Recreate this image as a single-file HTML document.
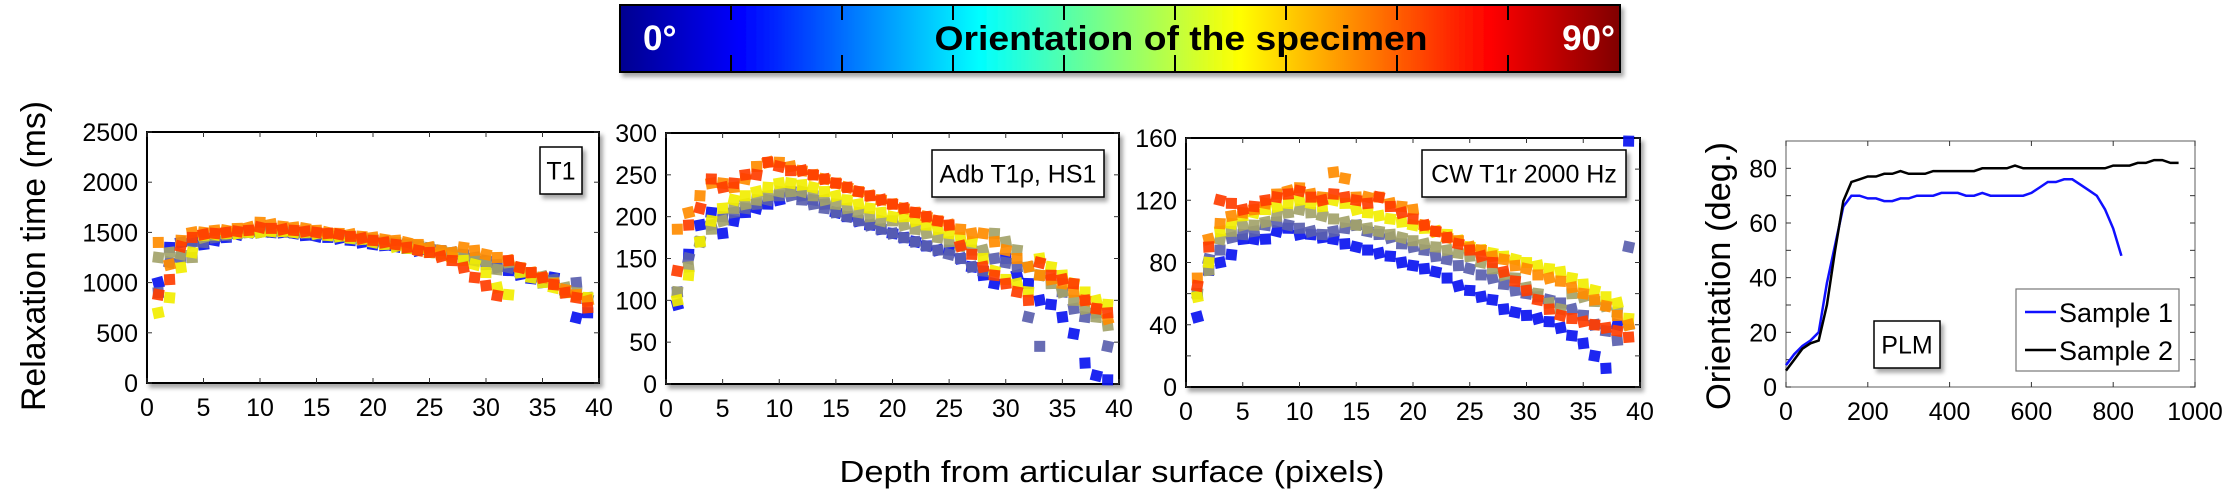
<!DOCTYPE html>
<html><head><meta charset="utf-8"><style>
body{margin:0;background:#fff;width:2233px;height:499px;overflow:hidden;font-family:"Liberation Sans",sans-serif}
</style></head><body>
<svg id="svg" width="2233" height="499" xmlns="http://www.w3.org/2000/svg">
<defs>
<linearGradient id="jet" x1="0" x2="1" y1="0" y2="0">
<stop offset="0" stop-color="#00008f"/><stop offset="0.12" stop-color="#0000ff"/><stop offset="0.36" stop-color="#00ffff"/>
<stop offset="0.62" stop-color="#ffff00"/><stop offset="0.87" stop-color="#ff0000"/><stop offset="1" stop-color="#800000"/>
</linearGradient>
<filter id="sh" x="-10%" y="-10%" width="130%" height="140%"><feDropShadow dx="3" dy="4" stdDeviation="2" flood-color="#000" flood-opacity="0.35"/></filter>
</defs>
<g>
<rect x="620" y="5" width="1000" height="67" fill="url(#jet)" stroke="#000" stroke-width="2" filter="url(#sh)"/>
<g id="cbticks"></g>
<text x="643" y="50" font-size="35" font-weight="bold" fill="#fff">0°</text>
<text x="1181" y="50" font-size="34" font-weight="bold" fill="#000" text-anchor="middle" textLength="493" lengthAdjust="spacingAndGlyphs">Orientation of the specimen</text>
<text x="1615" y="50" font-size="35" font-weight="bold" fill="#fff" text-anchor="end">90°</text>
</g>
<text transform="translate(45,256) rotate(-90)" font-size="34" text-anchor="middle" textLength="310" lengthAdjust="spacingAndGlyphs">Relaxation time (ms)</text>
<text x="1112" y="482" font-size="31" text-anchor="middle" textLength="545" lengthAdjust="spacingAndGlyphs">Depth from articular surface (pixels)</text>
<text transform="translate(1730,276) rotate(-90)" font-size="34" text-anchor="middle" textLength="268" lengthAdjust="spacingAndGlyphs">Orientation (deg.)</text>
</svg>
<script>
const depths=[1,2,3,4,5,6,7,8,9,10,11,12,13,14,15,16,17,18,19,20,21,22,23,24,25,26,27,28,29,30,31,32,33,34,35,36,37,38,39];
const seriesColors=["#0a14f0","#5a5fae","#a3a36a","#f2ee00","#ff8c00","#ff3d00"];
const t1Blue=[1000,1350,1400,1420,1380,1420,1450,1480,1500,1500,1500,1500,1490,1470,1460,1450,1440,1420,1400,1380,1370,1360,1340,1320,1300,1290,1270,1250,1220,1180,1150,1120,1080,1040,1000,1050,900,650,700];
const t1Slate=[900,1200,1250,1400,1400,1450,1470,1490,1500,1510,1510,1510,1500,1490,1480,1470,1460,1450,1440,1420,1400,1390,1380,1360,1340,1320,1300,1280,1250,1220,1180,1150,1110,1080,1050,1030,920,1000,830];
const t1Olive=[1250,1300,1280,1250,1450,1470,1480,1490,1500,1520,1520,1510,1500,1500,1490,1480,1470,1460,1440,1430,1410,1400,1380,1370,1350,1320,1300,1270,1240,1200,1130,1200,1150,1100,1060,1000,950,900,850];
const t1Yellow=[700,850,1150,1300,1470,1480,1490,1490,1500,1500,1510,1510,1500,1500,1490,1470,1460,1440,1430,1400,1380,1360,1340,1330,1300,1280,1250,1220,1180,1100,950,880,1100,1050,1000,950,900,870,850];
const t1Orange=[1400,1180,1420,1500,1500,1520,1520,1540,1550,1600,1580,1560,1550,1540,1520,1500,1490,1480,1460,1450,1430,1420,1400,1380,1350,1320,1300,1350,1320,1280,1250,1220,1150,1100,1050,990,930,880,820];
const t1Red=[880,1030,1360,1450,1480,1490,1500,1510,1520,1550,1540,1530,1520,1510,1500,1490,1480,1460,1440,1420,1400,1380,1350,1320,1300,1260,1220,1150,1050,970,870,1220,1150,1100,1050,980,900,850,750];
const adbBlue=[95,155,190,205,180,195,205,210,215,220,230,225,220,215,205,200,195,190,185,180,175,170,165,160,160,150,140,130,120,150,130,120,100,95,80,60,25,10,5];
const adbSlate=[110,150,170,190,200,205,210,215,220,225,225,220,215,210,205,200,195,190,185,180,175,170,165,160,155,150,140,135,150,145,140,80,45,125,110,90,80,85,45];
const adbOlive=[110,140,170,185,195,210,215,220,225,230,230,230,225,220,215,210,205,200,195,195,190,185,180,175,170,165,160,160,180,170,160,140,130,120,110,100,90,80,70];
const adbYellow=[100,130,170,195,210,220,225,230,235,240,240,238,235,230,225,220,215,210,205,200,200,195,190,185,180,175,170,150,135,125,120,110,150,140,130,120,110,100,95];
const adbOrange=[185,205,225,240,240,235,245,260,265,265,260,255,250,245,240,235,230,225,220,215,210,205,200,195,190,185,180,180,170,160,150,140,130,125,120,110,100,90,78];
const adbRed=[135,190,210,245,235,240,250,250,265,260,255,255,250,245,240,235,230,225,220,215,210,205,200,195,190,165,155,140,130,120,110,100,145,130,125,120,100,90,85];
const cwBlue=[45,75,80,85,95,95,95,100,102,98,98,96,95,92,90,88,86,84,80,78,76,74,70,65,62,58,56,50,48,46,44,42,38,33,28,20,12,40,158];
const cwSlate=[60,82,88,96,98,100,104,106,104,102,100,98,100,102,104,100,98,96,92,90,88,84,82,78,76,72,70,66,62,60,58,56,54,50,46,40,36,30,90];
const cwOlive=[60,75,95,100,104,104,106,110,112,114,112,110,108,106,104,102,100,98,96,94,92,90,88,86,84,80,76,72,70,64,60,54,50,60,58,55,52,48,40];
const cwYellow=[58,80,100,105,110,112,114,116,118,120,118,116,120,118,114,112,110,108,106,104,102,100,98,94,90,88,86,84,82,80,78,76,74,70,66,62,58,54,44];
const cwOrange=[70,95,105,110,112,114,118,124,126,128,124,122,138,134,122,122,122,118,116,114,104,100,96,94,90,88,84,82,78,76,72,70,68,64,60,56,52,46,40];
const cwRed=[65,90,120,118,114,116,120,122,124,126,122,120,124,122,120,118,122,116,112,108,104,100,96,92,88,84,80,74,68,62,56,50,46,44,42,40,38,36,32];
const sample1=[8,12,15,17,20,38,52,66,70,70,69,69,68,68,69,69,70,70,70,71,71,71,70,70,71,70,70,70,70,70,71,73,75,75,76,76,74,72,70,65,58,48];
const sample2=[6,10,14,16,17,30,50,68,75,76,77,77,78,78,79,78,78,78,79,79,79,79,79,79,80,80,80,80,81,80,80,80,80,80,80,80,80,80,80,80,81,81,81,82,82,83,83,82,82];
const xTicksDepth=[0,5,10,15,20,25,30,35,40];
const yTicksT1=[0,500,1000,1500,2000,2500];
const yTicksAdb=[0,50,100,150,200,250,300];
const yTicksCw=[0,40,80,120,160];
const yTicksCwMinor=[20,60,100,140];
const xTicksPlm=[0,200,400,600,800,1000];
const yTicksPlm=[0,20,40,60,80];

const NS="http://www.w3.org/2000/svg";
const svg=document.getElementById('svg');
function mk(tag,attrs,parent){const e=document.createElementNS(NS,tag);for(const k in attrs)e.setAttribute(k,attrs[k]);(parent||svg).appendChild(e);return e;}
const cbt=document.getElementById('cbticks');
for(let k=1;k<9;k++){
 const x=620+k*111;
 const t1=mk('line',{x1:x,x2:x,y1:5,y2:20,stroke:'#000','stroke-width':2},cbt);
 
 
 const t2=mk('line',{x1:x,x2:x,y1:55,y2:72,stroke:'#000','stroke-width':2},cbt);
 
 
}
function panel(name,L,R,T,B,xmin,xmax,ymin,ymax,xt,yt,yMinor,frameColor){
 const g=mk('g',{});
 
 
 const sx=v=>L+(v-xmin)/(xmax-xmin)*(R-L);
 const sy=v=>B-(v-ymin)/(ymax-ymin)*(B-T);
 const fr=mk('rect',{x:L,y:T,width:R-L,height:B-T,fill:'#fff',stroke:frameColor||'#000','stroke-width':frameColor?1.2:2,filter:frameColor?'none':'url(#sh)'},g);
 
 
 xt.forEach(v=>{const x=sx(v);
  mk('line',{x1:x,x2:x,y1:B,y2:B-5,stroke:'#333'},g);mk('line',{x1:x,x2:x,y1:T,y2:T+5,stroke:'#333'},g);
  const t=mk('text',{x:x,y:B+33,'font-size':25,'text-anchor':'middle'},g);t.textContent=v;
  
  });
 yt.concat(yMinor||[]).forEach(v=>{const y=sy(v);
  mk('line',{x1:L,x2:L+5,y1:y,y2:y,stroke:'#333'},g);mk('line',{x1:R,x2:R-5,y1:y,y2:y,stroke:'#333'},g);});
 yt.forEach(v=>{const y=sy(v);
  const t=mk('text',{x:L-9,y:y+9,'font-size':25,'text-anchor':'end'},g);t.textContent=v;
  
  });
 return {g,sx,sy};
}
function scatter(p,series,pname){
 series.forEach((vals,si)=>{
  vals.forEach((v,i)=>{
   const x=p.sx(depths[i]),y=p.sy(v);
   const r=mk('rect',{x:x-5.5,y:y-5.5,width:11,height:11,fill:seriesColors[si],opacity:0.92,transform:`rotate(${(i*17+si*11)%30-15} ${x} ${y})`},p.g);
   
   
  });
 });
}
function labelBox(x,y,w,h,txt,name){
 const g=mk('g',{});
 
 
 mk('rect',{x:x,y:y,width:w,height:h,fill:'#fff',stroke:'#000','stroke-width':1.5,filter:'url(#sh)'},g);
 const t=mk('text',{x:x+w/2,y:y+h/2+9,'font-size':25,'text-anchor':'middle'},g);t.textContent=txt;
}
const p1=panel('t1-panel',147,599,132,383,0,40,0,2500,xTicksDepth,yTicksT1);
scatter(p1,[t1Blue,t1Slate,t1Olive,t1Yellow,t1Orange,t1Red],'t1');
labelBox(540,147,42,47,'T1','t1-label-box');
const p2=panel('adb-panel',666,1119,133,384,0,40,0,300,xTicksDepth,yTicksAdb);
scatter(p2,[adbBlue,adbSlate,adbOlive,adbYellow,adbOrange,adbRed],'adb');
labelBox(932,150,172,47,'Adb T1ρ, HS1','adb-label-box');
const p3=panel('cw-panel',1186,1640,138,387,0,40,0,160,xTicksDepth,yTicksCw,yTicksCwMinor);
scatter(p3,[cwBlue,cwSlate,cwOlive,cwYellow,cwOrange,cwRed],'cw');
labelBox(1422,150,204,47,'CW T1r 2000 Hz','cw-label-box');
const p4=panel('plm-panel',1786,2195,141,387,0,1000,0,90,xTicksPlm,yTicksPlm,[10,30,50,70],'#777');
function line(vals,step,color,name){
 const d=vals.map((v,i)=>(i?'L':'M')+p4.sx(i*step).toFixed(1)+','+p4.sy(v).toFixed(1)).join(' ');
 const l=mk('path',{d:d,fill:'none',stroke:color,'stroke-width':2.5},p4.g);
 
 
}
line(sample1,20,'#1010ff','sample-1-line');
line(sample2,20,'#000','sample-2-line');
labelBox(1874,321,66,47,'PLM','plm-label-box');
const lg=mk('g',{});


mk('rect',{x:2016,y:289,width:163,height:82,fill:'#fff',stroke:'#777','stroke-width':1.2},lg);
[['Sample 1','#1010ff',312],['Sample 2','#000',350]].forEach(([n,c,y])=>{
 mk('line',{x1:2025,x2:2056,y1:y,y2:y,stroke:c,'stroke-width':2.5},lg);
 const t=mk('text',{x:2059,y:y+10,'font-size':27},lg);t.textContent=n;
 
 
});
</script>
</body></html>
